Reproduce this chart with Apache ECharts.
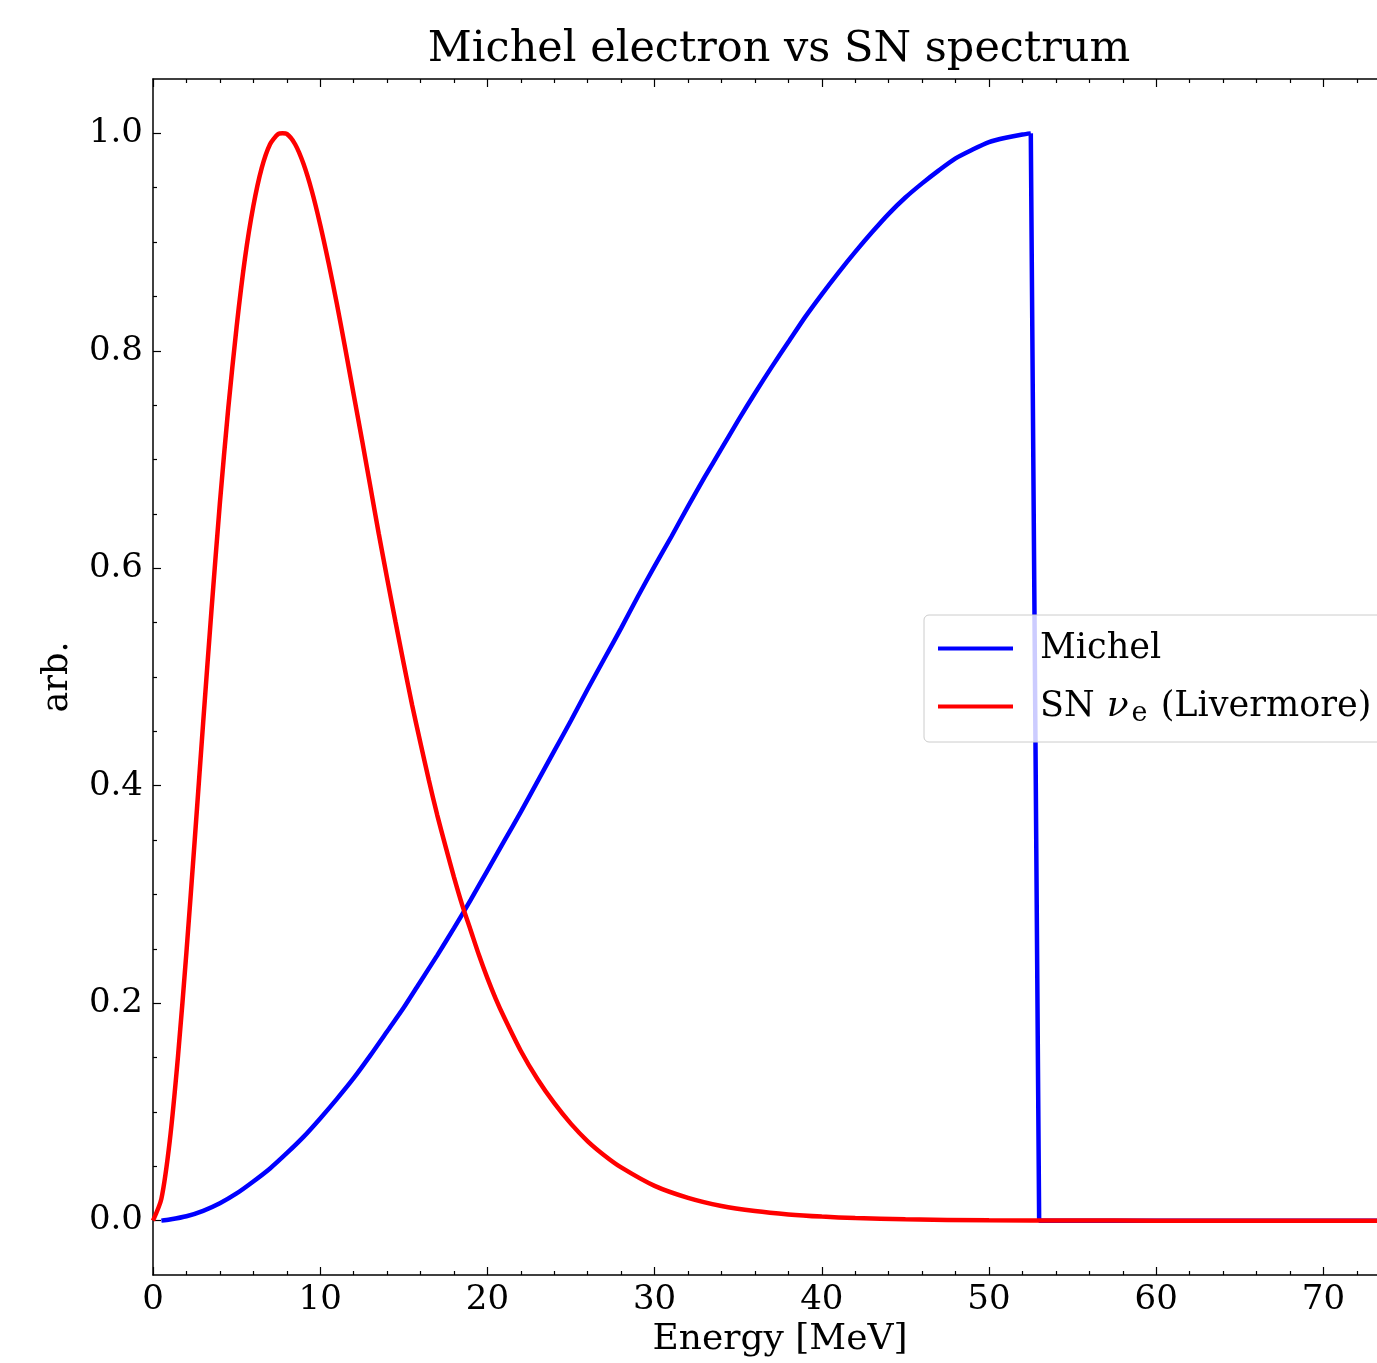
<!DOCTYPE html>
<html>
<head>
<meta charset="utf-8">
<script src="https://cdn.jsdelivr.net/npm/echarts@6/dist/echarts.min.js"></script>
<style>
  html, body { margin: 0; padding: 0; background: #fff; overflow: hidden; }
  #main { width: 1408px; height: 1363px; }
</style>
</head>
<body>
<div id="main"></div>
<script>
// Michel electron spectrum
var michelE = [0.5, 1, 2, 3, 4, 5, 6, 7, 8, 9, 10, 11, 12, 13, 14, 15, 16, 17, 18, 19, 20,
    21, 22, 23, 24, 25, 26, 27, 28, 29, 30, 31, 32, 33, 34, 35, 36, 37, 38, 39, 40,
    41, 42, 43, 44, 45, 46, 47, 48, 49, 50, 51, 52, 52.5];
var michelY = [0.000, 0.001, 0.004, 0.009, 0.016, 0.025, 0.036, 0.048, 0.062, 0.077, 0.094,
    0.112, 0.131, 0.152, 0.174, 0.196, 0.220, 0.244, 0.269, 0.295, 0.322,
    0.349, 0.376, 0.404, 0.432, 0.460, 0.489, 0.517, 0.545, 0.574, 0.602,
    0.629, 0.657, 0.684, 0.710, 0.736, 0.761, 0.785, 0.808, 0.831, 0.852,
    0.872, 0.891, 0.909, 0.926, 0.941, 0.954, 0.966, 0.977, 0.985, 0.992, 0.996, 0.999, 1.000];
// the cut-off edge of the Michel spectrum
var michelEdgeE = [52.5, 53, 75];
var michelEdgeY = [1.000, 0.000, 0.000];

// SN nu_e (Livermore) spectrum
var snE = [0, 0.5, 1, 1.5, 2, 2.5, 3, 3.5, 4, 4.5, 5, 5.5, 6, 6.5, 7, 7.5, 7.75, 8, 8.5, 9, 9.5,
    10, 10.5, 11, 11.5, 12, 12.5, 13, 13.5, 14, 14.5, 15, 15.5, 16, 16.5, 17, 17.5, 18, 18.5, 19, 19.5,
    20, 20.5, 21, 22, 23, 24, 25, 26, 27, 28, 30, 32, 34, 36, 38, 40, 42, 45, 50, 55, 60, 75];
var snY = [0.000, 0.020, 0.073, 0.152, 0.247, 0.351, 0.458, 0.562, 0.660, 0.747, 0.822, 0.885, 0.933, 0.968, 0.990, 0.9995, 1.000, 0.9995, 0.990, 0.972, 0.947,
    0.916, 0.881, 0.843, 0.802, 0.760, 0.718, 0.675, 0.632, 0.591, 0.551, 0.512, 0.474, 0.439, 0.405, 0.373, 0.344, 0.316, 0.290, 0.267, 0.244,
    0.223, 0.204, 0.187, 0.156, 0.130, 0.108, 0.089, 0.073, 0.060, 0.049, 0.032, 0.021, 0.0135, 0.0088, 0.0057, 0.0037, 0.0024, 0.0012, 0.0003, 0.0001, 0.000, 0.000];

var yLabels = [0, 0.2, 0.4, 0.6, 0.8, 1.0];
var xLabels = [0, 10, 20, 30, 40, 50, 60, 70];

var yMinor = [];
for (var k = 1; k < 20; k++) { if (k % 4 !== 0) yMinor.push(k * 0.05); }
var xMinor = [];
for (var j = 2; j < 76; j += 2) { if (j % 10 !== 0) xMinor.push(j); }

function pairs(xs, ys) {
    var out = [];
    for (var i = 0; i < xs.length; i++) out.push([xs[i], ys[i]]);
    return out;
}

var font = 'DejaVu Serif';
var axisCol = '#000';

function xAx(pos, ticks, len, showLine, showLabel) {
    return {
        type: 'value', position: pos, min: 0, max: 75,
        axisLine: { show: showLine, onZero: false, lineStyle: { color: axisCol, width: 1.5 } },
        axisTick: { show: true, inside: true, length: len, customValues: ticks, lineStyle: { color: axisCol, width: 1.2 } },
        axisLabel: { show: showLabel, customValues: xLabels, color: '#000', fontFamily: font, fontSize: 34, margin: 8 },
        splitLine: { show: false }
    };
}
function yAx(ticks, len, showLine, showLabel) {
    return {
        type: 'value', position: 'left', min: -0.05, max: 1.05,
        axisLine: { show: showLine, onZero: false, lineStyle: { color: axisCol, width: 1.5 } },
        axisTick: { show: true, inside: true, length: len, customValues: ticks, lineStyle: { color: axisCol, width: 1.2 } },
        axisLabel: { show: showLabel, customValues: yLabels, color: '#000', fontFamily: font, fontSize: 34, margin: 10,
            formatter: function (v) { return v.toFixed(1); } },
        splitLine: { show: false }
    };
}

var xBottom = xAx('bottom', xLabels, 8, true, true);
xBottom.name = 'Energy [MeV]';
xBottom.nameLocation = 'middle';
xBottom.nameGap = 47;
xBottom.nameTextStyle = { color: '#000', fontFamily: font, fontSize: 36 };

var yLeft = yAx(yLabels, 8, true, true);
yLeft.name = 'arb.';
yLeft.nameLocation = 'middle';
yLeft.nameGap = 78;
yLeft.nameTextStyle = { color: '#000', fontFamily: font, fontSize: 35 };

var myChart = echarts.init(document.getElementById('main'));
var option = {
    animation: false,
    backgroundColor: '#fff',
    title: {
        text: 'Michel electron vs SN spectrum',
        left: 779, top: 28, padding: 0, textAlign: 'center',
        textStyle: { color: '#000', fontFamily: font, fontSize: 43, fontWeight: 'normal' }
    },
    grid: { left: 153, top: 79, bottom: 86, right: 1, containLabel: false },
    legend: {
        orient: 'vertical', left: 924, top: 615,
        padding: [16, 12, 15, 14], itemGap: 20,
        itemWidth: 75, itemHeight: 4, icon: 'rect',
        backgroundColor: 'rgba(255,255,255,0.8)',
        borderColor: '#cccccc', borderWidth: 1, borderRadius: 5,
        data: ['Michel', 'SN'],
        formatter: function (name) {
            if (name === 'SN') return '{t|SN }{nu|ν}{sub|e}{t| (Livermore)}';
            return '{t|Michel}';
        },
        textStyle: {
            color: '#000', fontFamily: font, fontSize: 35, padding: [0, 0, 0, 22],
            rich: {
                t: { fontFamily: font, fontSize: 35, color: '#000', lineHeight: 38 },
                nu: { fontFamily: font, fontSize: 36, fontStyle: 'italic', color: '#000', lineHeight: 38, padding: [0, 2, 0, 1] },
                sub: { fontFamily: font, fontSize: 27, color: '#000', padding: [14, 2, 0, 1], lineHeight: 38 }
            }
        }
    },
    xAxis: [
        xBottom,
        xAx('bottom', xMinor, 4, false, false),
        xAx('top', xLabels, 8, true, false),
        xAx('top', xMinor, 4, false, false)
    ],
    yAxis: [
        yLeft,
        yAx(yMinor, 4, false, false)
    ],
    series: [
        {
            name: 'Michel', type: 'line', xAxisIndex: 0, yAxisIndex: 0,
            data: pairs(michelE, michelY), showSymbol: false, smooth: 0.25,
            lineStyle: { color: '#0000ff', width: 4.5 }, itemStyle: { color: '#0000ff' }
        },
        {
            name: 'Michel', type: 'line', xAxisIndex: 0, yAxisIndex: 0,
            data: pairs(michelEdgeE, michelEdgeY), showSymbol: false,
            lineStyle: { color: '#0000ff', width: 4.5 }, itemStyle: { color: '#0000ff' }
        },
        {
            name: 'SN', type: 'line', xAxisIndex: 0, yAxisIndex: 0,
            data: pairs(snE, snY), showSymbol: false, smooth: 0.25,
            lineStyle: { color: '#ff0000', width: 4.5 }, itemStyle: { color: '#ff0000' }
        }
    ]
};
myChart.setOption(option);
</script>
</body>
</html>
